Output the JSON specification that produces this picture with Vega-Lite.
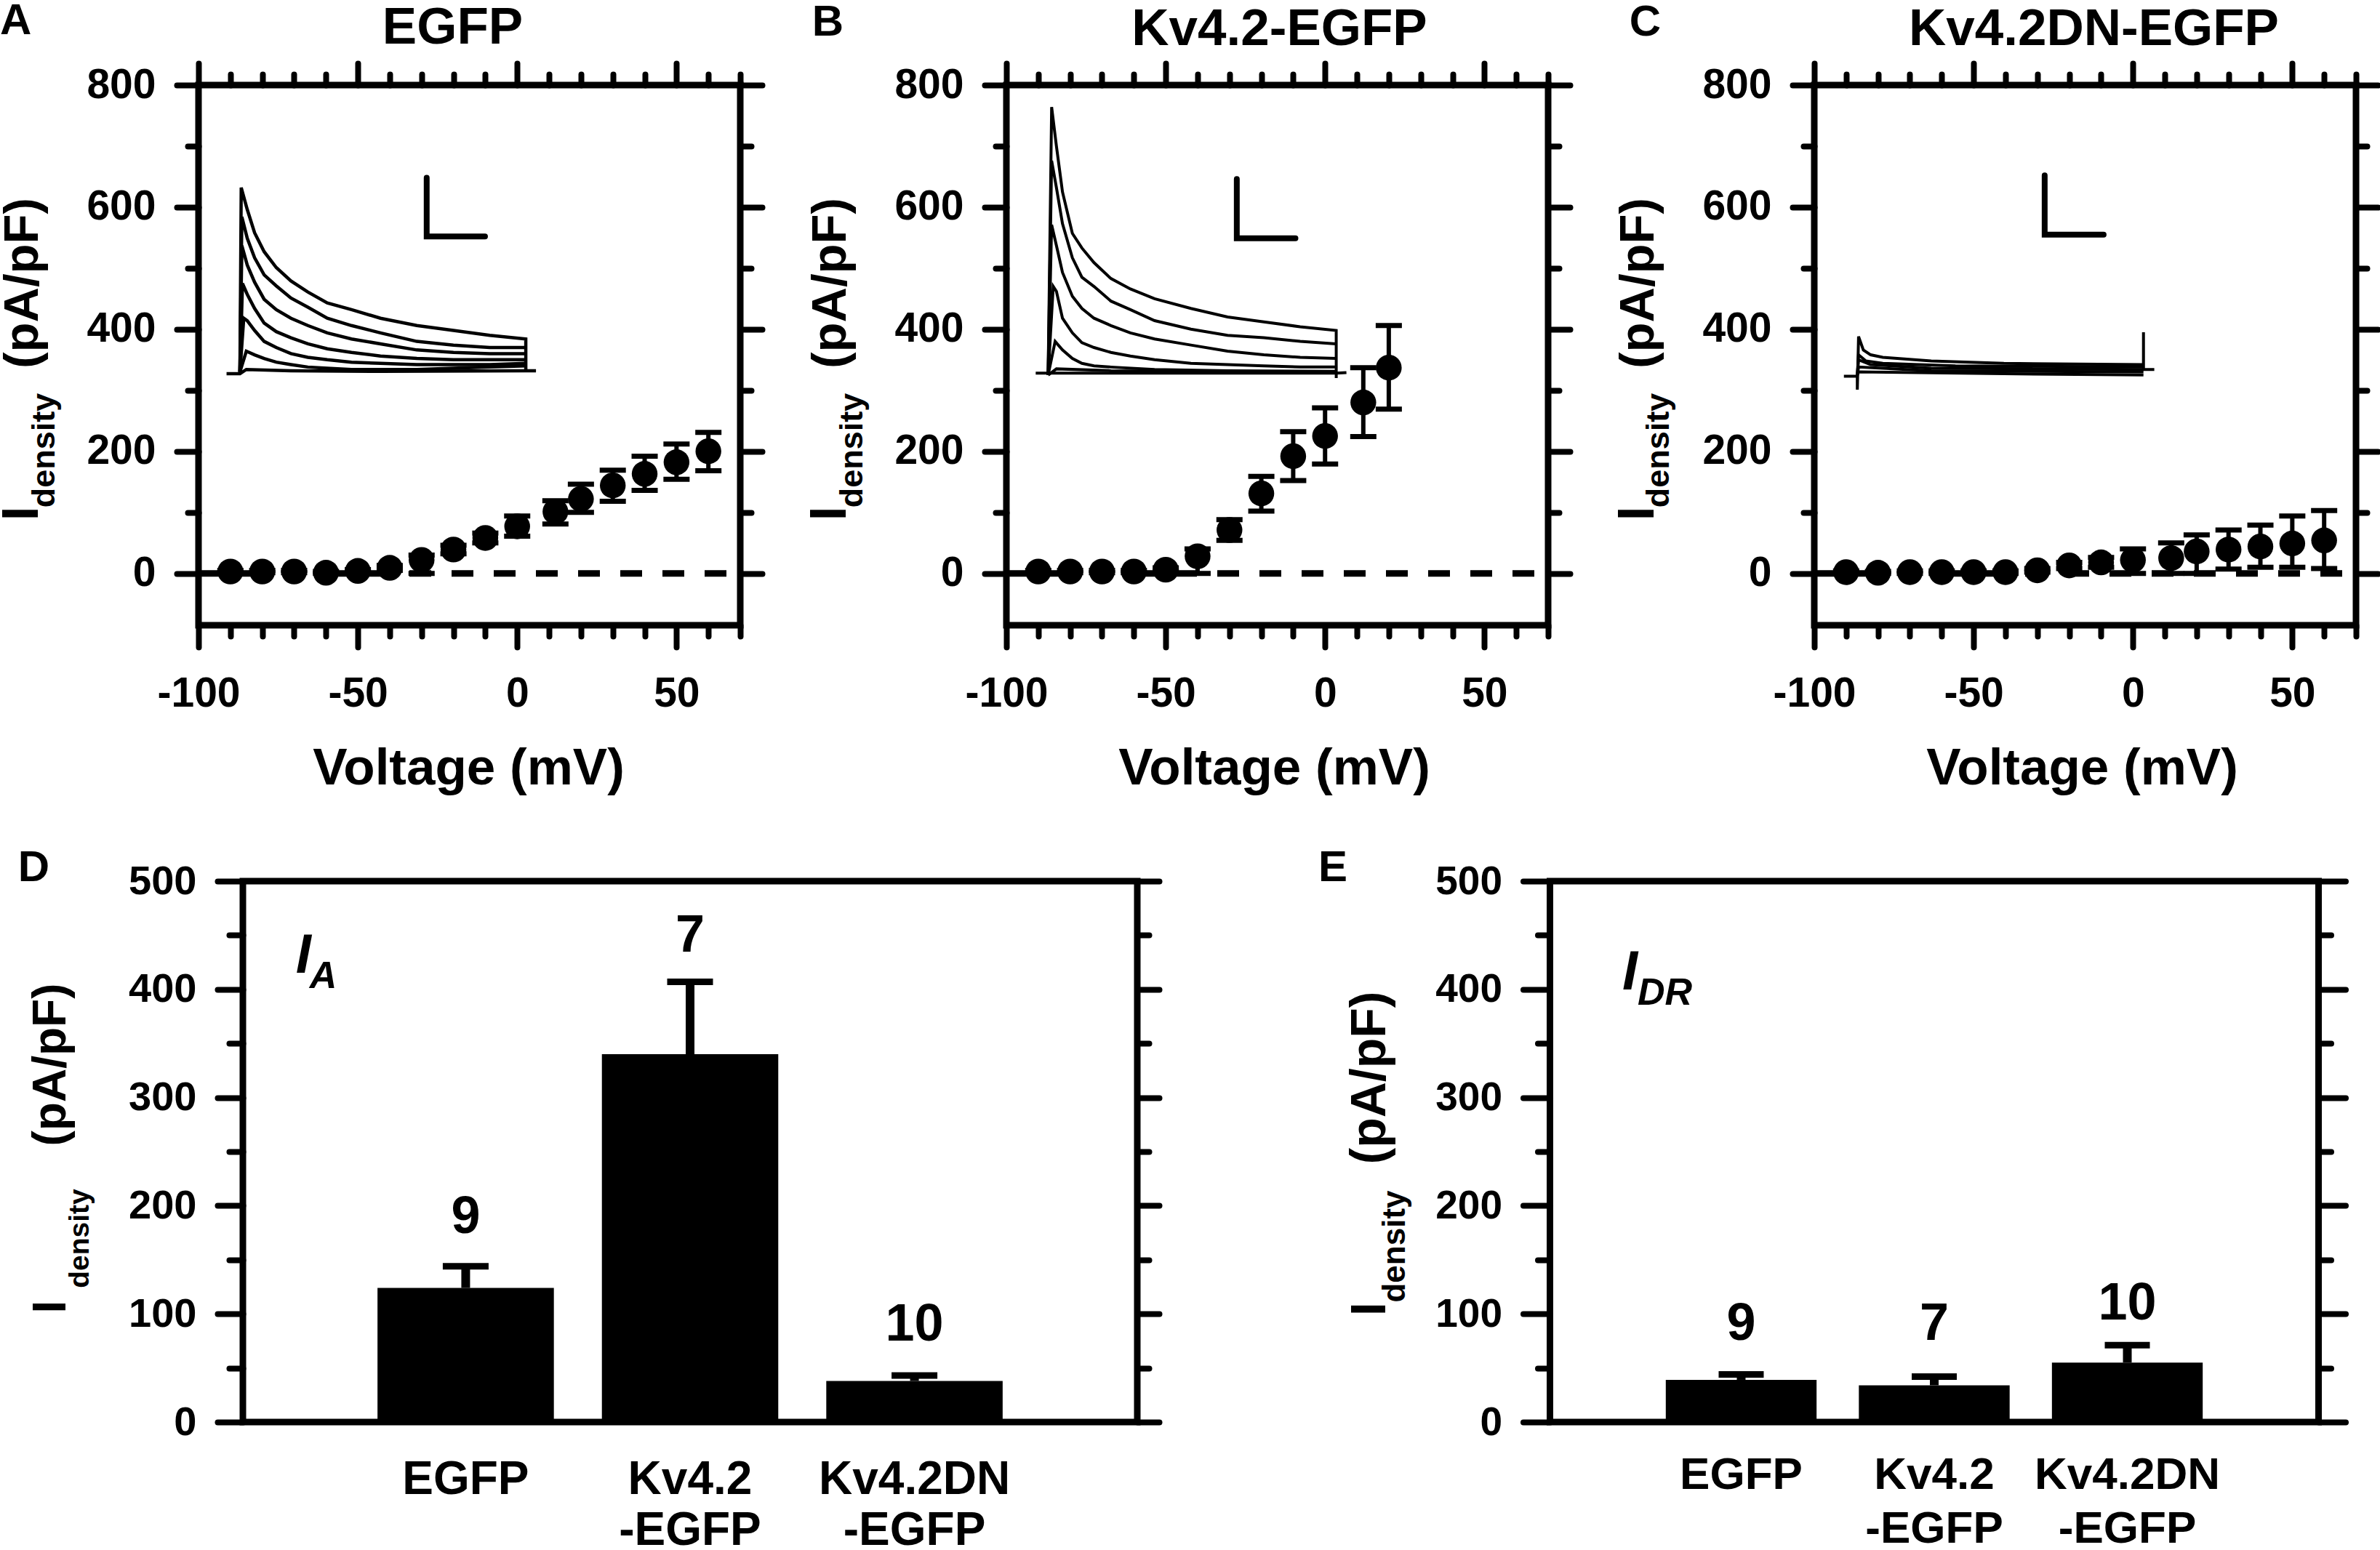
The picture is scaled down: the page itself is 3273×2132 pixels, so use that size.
{
"$schema":"https://vega.github.io/schema/vega-lite/v6.json",
"background":"white",
"padding":{"left":-11,"top":-6,"right":0,"bottom":0},
"config":{
 "font":"Liberation Sans",
 "view":{"stroke":"black","strokeWidth":9},
 "axis":{"grid":false,"domain":false,"labelFontSize":57,"labelFontWeight":"bold","labelColor":"black","labelLimit":1000,"labelOverlap":false,"labelFlush":false,"labelBound":false,"tickColor":"black","tickCap":"round","titleFontWeight":"bold","titleColor":"black","titleAlign":"center","titleBaseline":"alphabetic"},
 "text":{"fontWeight":"bold","color":"black","align":"left","baseline":"alphabetic"},
 "line":{"color":"black"},"rule":{"color":"black"},"tick":{"color":"black","opacity":1},"bar":{"color":"black"}
},
"datasets":{
 "a":[{"v":-90,"i":3,"lo":1,"hi":5},{"v":-80,"i":3,"lo":1,"hi":5},{"v":-70,"i":3,"lo":1,"hi":5},{"v":-60,"i":1,"lo":0,"hi":3},{"v":-50,"i":4,"lo":2,"hi":6},{"v":-40,"i":9,"lo":5,"hi":13},{"v":-30,"i":22,"lo":0,"hi":30},{"v":-20,"i":39,"lo":32,"hi":46},{"v":-10,"i":58,"lo":50,"hi":66},{"v":0,"i":77,"lo":61,"hi":94},{"v":12,"i":101,"lo":81,"hi":119},{"v":20,"i":122,"lo":100,"hi":146},{"v":30,"i":144,"lo":118,"hi":169},{"v":40,"i":163,"lo":136,"hi":192},{"v":50,"i":182,"lo":154,"hi":212},{"v":60,"i":200,"lo":168,"hi":231}],
 "b":[{"v":-90,"i":3,"lo":1,"hi":5},{"v":-80,"i":3,"lo":1,"hi":5},{"v":-70,"i":3,"lo":1,"hi":5},{"v":-60,"i":3,"lo":1,"hi":5},{"v":-50,"i":6,"lo":3,"hi":9},{"v":-40,"i":28,"lo":0,"hi":40},{"v":-30,"i":71,"lo":54,"hi":88},{"v":-20,"i":131,"lo":102,"hi":159},{"v":-10,"i":192,"lo":152,"hi":232},{"v":0,"i":225,"lo":179,"hi":271},{"v":12,"i":280,"lo":224,"hi":337},{"v":20,"i":337,"lo":269,"hi":406}],
 "c":[{"v":-90,"i":2,"lo":0,"hi":4},{"v":-80,"i":1,"lo":0,"hi":3},{"v":-70,"i":2,"lo":0,"hi":4},{"v":-60,"i":2,"lo":0,"hi":4},{"v":-50,"i":2,"lo":0,"hi":4},{"v":-40,"i":2,"lo":0,"hi":4},{"v":-30,"i":5,"lo":2,"hi":8},{"v":-20,"i":13,"lo":8,"hi":18},{"v":-10,"i":18,"lo":10,"hi":26},{"v":0,"i":22,"lo":0,"hi":40},{"v":12,"i":25,"lo":0,"hi":50},{"v":20,"i":36,"lo":0,"hi":63},{"v":30,"i":39,"lo":7,"hi":71},{"v":40,"i":44,"lo":10,"hi":79},{"v":50,"i":49,"lo":10,"hi":94},{"v":60,"i":54,"lo":8,"hi":103}],
 "d":[{"g":"EGFP","i":124,"hi":144,"n":"9","ny":175},{"g":"Kv4.2 -EGFP","i":340,"hi":407,"n":"7","ny":435},{"g":"Kv4.2DN -EGFP","i":38,"hi":43,"n":"10","ny":75}],
 "e":[{"g":"EGFP","i":39,"hi":44,"n":"9","ny":76},{"g":"Kv4.2 -EGFP","i":34,"hi":42,"n":"7","ny":76},{"g":"Kv4.2DN -EGFP","i":55,"hi":71,"n":"10","ny":95}],
 "zero":[{"a":-100,"b":70,"z":0}],
 "traceA":[
 {"t":1,"v":-87,"i":330},{"t":1,"v":-86.6,"i":632},{"t":1,"v":-84.7,"i":596},{"t":1,"v":-82.4,"i":558},{"t":1,"v":-79.4,"i":527},{"t":1,"v":-75.6,"i":501},{"t":1,"v":-71,"i":479},{"t":1,"v":-65.7,"i":461},{"t":1,"v":-59.6,"i":443},{"t":1,"v":-52,"i":432},{"t":1,"v":-42.9,"i":418},{"t":1,"v":-31.5,"i":406},{"t":1,"v":-20,"i":398},{"t":1,"v":-8.6,"i":390},{"t":1,"v":2.7,"i":384},{"t":1,"v":2.71,"i":332},
 {"t":2,"v":-87,"i":330},{"t":2,"v":-86.4,"i":584},{"t":2,"v":-84.7,"i":549},{"t":2,"v":-82.4,"i":517},{"t":2,"v":-79.4,"i":489},{"t":2,"v":-75.6,"i":471},{"t":2,"v":-71,"i":451},{"t":2,"v":-65.7,"i":436},{"t":2,"v":-59.6,"i":418},{"t":2,"v":-52,"i":406},{"t":2,"v":-42.9,"i":394},{"t":2,"v":-31.5,"i":380},{"t":2,"v":-20,"i":374},{"t":2,"v":-8.6,"i":370},{"t":2,"v":2.7,"i":370},
 {"t":3,"v":-87,"i":330},{"t":3,"v":-86.4,"i":537},{"t":3,"v":-84.7,"i":505},{"t":3,"v":-82.4,"i":477},{"t":3,"v":-79.4,"i":449},{"t":3,"v":-75.6,"i":432},{"t":3,"v":-71,"i":418},{"t":3,"v":-65.7,"i":406},{"t":3,"v":-59.6,"i":394},{"t":3,"v":-52,"i":384},{"t":3,"v":-42.9,"i":376},{"t":3,"v":-31.5,"i":366},{"t":3,"v":-20,"i":362},{"t":3,"v":-8.6,"i":360},{"t":3,"v":2.7,"i":360},
 {"t":4,"v":-87,"i":330},{"t":4,"v":-86.2,"i":475},{"t":4,"v":-84.7,"i":457},{"t":4,"v":-82.4,"i":434},{"t":4,"v":-79.4,"i":410},{"t":4,"v":-75.6,"i":396},{"t":4,"v":-71,"i":386},{"t":4,"v":-65.7,"i":376},{"t":4,"v":-59.6,"i":368},{"t":4,"v":-52,"i":362},{"t":4,"v":-42.9,"i":356},{"t":4,"v":-31.5,"i":352},{"t":4,"v":-20,"i":350},{"t":4,"v":-8.6,"i":350},{"t":4,"v":2.7,"i":350},
 {"t":5,"v":-87,"i":330},{"t":5,"v":-85.8,"i":418},{"t":5,"v":-84.7,"i":414},{"t":5,"v":-82.4,"i":398},{"t":5,"v":-79.4,"i":380},{"t":5,"v":-75.6,"i":370},{"t":5,"v":-71,"i":360},{"t":5,"v":-65.7,"i":354},{"t":5,"v":-59.6,"i":350},{"t":5,"v":-52,"i":346},{"t":5,"v":-42.9,"i":344},{"t":5,"v":-31.5,"i":342},{"t":5,"v":-20,"i":342},{"t":5,"v":-8.6,"i":342},{"t":5,"v":2.7,"i":344},
 {"t":6,"v":-87,"i":330},{"t":6,"v":-85,"i":364},{"t":6,"v":-82.4,"i":358},{"t":6,"v":-79.4,"i":352},{"t":6,"v":-75.6,"i":346},{"t":6,"v":-71,"i":342},{"t":6,"v":-65.7,"i":338},{"t":6,"v":-59.6,"i":336},{"t":6,"v":-52,"i":334},{"t":6,"v":-31.5,"i":334},{"t":6,"v":-20,"i":336},{"t":6,"v":-8.6,"i":338},{"t":6,"v":2.7,"i":340},
 {"t":7,"v":-91.2,"i":327},{"t":7,"v":-87,"i":327},{"t":7,"v":-85,"i":334},{"t":7,"v":-71,"i":332},{"t":7,"v":-42.9,"i":331},{"t":7,"v":2.7,"i":332},{"t":7,"v":5.9,"i":332}],
 "traceB":[
 {"t":1,"v":-86.9,"i":325},{"t":1,"v":-85.8,"i":764},{"t":1,"v":-84.3,"i":700},{"t":1,"v":-82.4,"i":625},{"t":1,"v":-79.3,"i":557},{"t":1,"v":-76.3,"i":533},{"t":1,"v":-72.5,"i":509},{"t":1,"v":-67.2,"i":483},{"t":1,"v":-61.1,"i":466},{"t":1,"v":-53.5,"i":450},{"t":1,"v":-42.1,"i":434},{"t":1,"v":-30.6,"i":420},{"t":1,"v":-19.2,"i":412},{"t":1,"v":-7.8,"i":404},{"t":1,"v":3.5,"i":398},{"t":1,"v":3.51,"i":320},
 {"t":2,"v":-86.9,"i":325},{"t":2,"v":-85.8,"i":676},{"t":2,"v":-84.3,"i":632},{"t":2,"v":-82.4,"i":573},{"t":2,"v":-79.3,"i":517},{"t":2,"v":-76.3,"i":485},{"t":2,"v":-72.5,"i":470},{"t":2,"v":-67.2,"i":446},{"t":2,"v":-61.1,"i":432},{"t":2,"v":-53.5,"i":414},{"t":2,"v":-42.1,"i":400},{"t":2,"v":-30.6,"i":390},{"t":2,"v":-19.2,"i":386},{"t":2,"v":-7.8,"i":380},{"t":2,"v":3.5,"i":376},
 {"t":3,"v":-86.9,"i":325},{"t":3,"v":-85.8,"i":571},{"t":3,"v":-84.3,"i":537},{"t":3,"v":-82.4,"i":493},{"t":3,"v":-79.3,"i":454},{"t":3,"v":-76.3,"i":434},{"t":3,"v":-72.5,"i":418},{"t":3,"v":-67.2,"i":406},{"t":3,"v":-61.1,"i":394},{"t":3,"v":-53.5,"i":384},{"t":3,"v":-42.1,"i":374},{"t":3,"v":-30.6,"i":364},{"t":3,"v":-19.2,"i":358},{"t":3,"v":-7.8,"i":354},{"t":3,"v":3.5,"i":352},
 {"t":4,"v":-86.9,"i":325},{"t":4,"v":-85.3,"i":470},{"t":4,"v":-84.3,"i":462},{"t":4,"v":-82.4,"i":418},{"t":4,"v":-79.3,"i":394},{"t":4,"v":-76.3,"i":378},{"t":4,"v":-72.5,"i":370},{"t":4,"v":-67.2,"i":362},{"t":4,"v":-61.1,"i":356},{"t":4,"v":-53.5,"i":350},{"t":4,"v":-42.1,"i":344},{"t":4,"v":-30.6,"i":342},{"t":4,"v":-19.2,"i":340},{"t":4,"v":-7.8,"i":338},{"t":4,"v":3.5,"i":338},
 {"t":5,"v":-86.9,"i":325},{"t":5,"v":-84.7,"i":380},{"t":5,"v":-82.4,"i":366},{"t":5,"v":-79.3,"i":352},{"t":5,"v":-76.3,"i":344},{"t":5,"v":-72.5,"i":340},{"t":5,"v":-67.2,"i":338},{"t":5,"v":-53.5,"i":334},{"t":5,"v":-30.6,"i":332},{"t":5,"v":3.5,"i":331},
 {"t":6,"v":-86.9,"i":325},{"t":6,"v":-84.3,"i":335},{"t":6,"v":-67.2,"i":332},{"t":6,"v":3.5,"i":330},
 {"t":7,"v":-90.8,"i":328},{"t":7,"v":-86.9,"i":328},{"t":7,"v":3.5,"i":328},{"t":7,"v":6.7,"i":329}],
 "traceC":[
 {"t":1,"v":-90.7,"i":323},{"t":1,"v":-86.5,"i":323},{"t":1,"v":-86.49,"i":301},{"t":1,"v":-86.1,"i":388},{"t":1,"v":-84.6,"i":366},{"t":1,"v":-82.3,"i":358},{"t":1,"v":-78.5,"i":354},{"t":1,"v":-63.3,"i":348},{"t":1,"v":-40.5,"i":344},{"t":1,"v":3.3,"i":342},{"t":1,"v":3.31,"i":395},{"t":1,"v":3.32,"i":334},{"t":1,"v":6.7,"i":334},
 {"t":2,"v":-86.5,"i":325},{"t":2,"v":-86.1,"i":358},{"t":2,"v":-83.8,"i":348},{"t":2,"v":-78.5,"i":344},{"t":2,"v":-55.7,"i":340},{"t":2,"v":3.3,"i":338},
 {"t":3,"v":-86.5,"i":325},{"t":3,"v":-86.1,"i":350},{"t":3,"v":-82.3,"i":342},{"t":3,"v":-63.3,"i":336},{"t":3,"v":3.3,"i":334},
 {"t":4,"v":-86.5,"i":325},{"t":4,"v":-86.1,"i":338},{"t":4,"v":-63.3,"i":332},{"t":4,"v":3.3,"i":330},
 {"t":5,"v":-86.5,"i":325},{"t":5,"v":-86.1,"i":330},{"t":5,"v":-40.5,"i":327},{"t":5,"v":3.3,"i":325}],
 "barA":[{"v":-28.4,"i":648},{"v":-28.4,"i":552},{"v":-10.1,"i":552}],
 "barB":[{"v":-27.7,"i":646},{"v":-27.7,"i":549},{"v":-9.3,"i":549}],
 "barC":[{"v":-27.7,"i":652},{"v":-27.7,"i":555},{"v":-9.2,"i":555}]
},
"vconcat":[
{"hconcat":[
 {"width":745,"height":743,"data":{"name":"a"},
  "title":{"text":"EGFP","fontSize":71,"fontWeight":"bold","color":"black","anchor":"middle","frame":"group","dx":-23,"offset":-132,"baseline":"alphabetic"},
  "resolve":{"axis":{"x":"independent","y":"independent"}},
  "layer":[
  {"data":{"name":"zero"},"mark":{"type":"rule","strokeDash":[30,28],"strokeWidth":9},
   "encoding":{"x":{"field":"a","type":"quantitative","scale":{"domain":[-100,70],"nice":false},
     "axis":{"orient":"bottom","values":[-100,-50,0,50],"labelExpr":"toString(datum.value)","tickSize":30,"tickWidth":8,"labelPadding":36,"title":"Voltage (mV)","titleX":371,"titleY":218,"titleFontSize":71}},
    "x2":{"field":"b"},
    "y":{"field":"z","type":"quantitative","scale":{"domain":[-85,800],"nice":false},
     "axis":{"orient":"left","values":[0,200,400,600,800],"tickSize":30,"tickWidth":8,"labelPadding":29,"title":"(pA/pF)","titleX":-222,"titleY":272,"titleFontSize":67,"titleAngle":-90}}}},
  {"mark":{"type":"rule","strokeWidth":6},
   "encoding":{"x":{"field":"v","type":"quantitative","axis":{"orient":"bottom","values":[-90,-80,-70,-60,-40,-30,-20,-10,10,20,30,40,60,70],"tickSize":15,"tickWidth":8,"labels":false,"title":null}},
    "y":{"field":"lo","type":"quantitative","axis":{"orient":"left","values":[100,300,500,700],"tickSize":15,"tickWidth":8,"labels":false,"title":"I","titleX":-222,"titleY":589,"titleFontSize":71,"titleAngle":-90}},
    "y2":{"field":"hi"}}},
  {"mark":{"type":"tick","orient":"horizontal","size":36,"thickness":7},
   "encoding":{"x":{"field":"v","type":"quantitative","axis":{"orient":"top","values":[-100,-50,0,50],"tickSize":30,"tickWidth":8,"labels":false,"title":null}},
    "y":{"field":"hi","type":"quantitative","axis":{"orient":"right","values":[0,200,400,600,800],"tickSize":30,"tickWidth":8,"labels":false,"title":null}}}},
  {"mark":{"type":"tick","orient":"horizontal","size":36,"thickness":7},
   "encoding":{"x":{"field":"v","type":"quantitative","axis":{"orient":"top","values":[-90,-80,-70,-60,-40,-30,-20,-10,10,20,30,40,60,70],"tickSize":15,"tickWidth":8,"labels":false,"title":null}},
    "y":{"field":"lo","type":"quantitative","axis":{"orient":"right","values":[100,300,500,700],"tickSize":15,"tickWidth":8,"labels":false,"title":null}}}},
  {"mark":{"type":"circle","color":"black","opacity":1,"size":1256},
   "encoding":{"x":{"field":"v","type":"quantitative","axis":null},
    "y":{"field":"i","type":"quantitative","axis":{"orient":"left","ticks":false,"labels":false,"title":"density","titleX":-199,"titleY":502,"titleFontSize":45,"titleAngle":-90}}}},
  {"data":{"name":"traceA"},"mark":{"type":"line","strokeWidth":4.5},
   "encoding":{"x":{"field":"v","type":"quantitative","axis":null},"y":{"field":"i","type":"quantitative","axis":null},"detail":{"field":"t"}}},
  {"data":{"name":"barA"},"mark":{"type":"line","strokeWidth":8,"strokeCap":"round"},
   "encoding":{"x":{"field":"v","type":"quantitative","axis":null},"y":{"field":"i","type":"quantitative","axis":null}}},
  {"data":{"values":[{"v":-162.3,"i":883,"s":"A"}]},"mark":{"type":"text","fontSize":60},
   "encoding":{"x":{"field":"v","type":"quantitative","axis":null},"y":{"field":"i","type":"quantitative","axis":null},"text":{"field":"s"}}}
  ]},
 {"width":745,"height":743,"data":{"name":"b"},
  "title":{"text":"Kv4.2-EGFP","fontSize":71,"fontWeight":"bold","color":"black","anchor":"middle","frame":"group","dx":3,"offset":-132,"baseline":"alphabetic"},
  "resolve":{"axis":{"x":"independent","y":"independent"}},
  "layer":[
  {"data":{"name":"zero"},"mark":{"type":"rule","strokeDash":[30,28],"strokeWidth":9},
   "encoding":{"x":{"field":"a","type":"quantitative","scale":{"domain":[-100,70],"nice":false},
     "axis":{"orient":"bottom","values":[-100,-50,0,50],"labelExpr":"toString(datum.value)","tickSize":30,"tickWidth":8,"labelPadding":36,"title":"Voltage (mV)","titleX":368,"titleY":218,"titleFontSize":71}},
    "x2":{"field":"b"},
    "y":{"field":"z","type":"quantitative","scale":{"domain":[-85,800],"nice":false},
     "axis":{"orient":"left","values":[0,200,400,600,800],"tickSize":30,"tickWidth":8,"labelPadding":29,"title":"(pA/pF)","titleX":-222,"titleY":272,"titleFontSize":67,"titleAngle":-90}}}},
  {"mark":{"type":"rule","strokeWidth":6},
   "encoding":{"x":{"field":"v","type":"quantitative","axis":{"orient":"bottom","values":[-90,-80,-70,-60,-40,-30,-20,-10,10,20,30,40,60,70],"tickSize":15,"tickWidth":8,"labels":false,"title":null}},
    "y":{"field":"lo","type":"quantitative","axis":{"orient":"left","values":[100,300,500,700],"tickSize":15,"tickWidth":8,"labels":false,"title":"I","titleX":-222,"titleY":589,"titleFontSize":71,"titleAngle":-90}},
    "y2":{"field":"hi"}}},
  {"mark":{"type":"tick","orient":"horizontal","size":36,"thickness":7},
   "encoding":{"x":{"field":"v","type":"quantitative","axis":{"orient":"top","values":[-100,-50,0,50],"tickSize":30,"tickWidth":8,"labels":false,"title":null}},
    "y":{"field":"hi","type":"quantitative","axis":{"orient":"right","values":[0,200,400,600,800],"tickSize":30,"tickWidth":8,"labels":false,"title":null}}}},
  {"mark":{"type":"tick","orient":"horizontal","size":36,"thickness":7},
   "encoding":{"x":{"field":"v","type":"quantitative","axis":{"orient":"top","values":[-90,-80,-70,-60,-40,-30,-20,-10,10,20,30,40,60,70],"tickSize":15,"tickWidth":8,"labels":false,"title":null}},
    "y":{"field":"lo","type":"quantitative","axis":{"orient":"right","values":[100,300,500,700],"tickSize":15,"tickWidth":8,"labels":false,"title":null}}}},
  {"mark":{"type":"circle","color":"black","opacity":1,"size":1256},
   "encoding":{"x":{"field":"v","type":"quantitative","axis":null},
    "y":{"field":"i","type":"quantitative","axis":{"orient":"left","ticks":false,"labels":false,"title":"density","titleX":-199,"titleY":502,"titleFontSize":45,"titleAngle":-90}}}},
  {"data":{"name":"traceB"},"mark":{"type":"line","strokeWidth":4},
   "encoding":{"x":{"field":"v","type":"quantitative","axis":null},"y":{"field":"i","type":"quantitative","axis":null},"detail":{"field":"t"}}},
  {"data":{"name":"barB"},"mark":{"type":"line","strokeWidth":8,"strokeCap":"round"},
   "encoding":{"x":{"field":"v","type":"quantitative","axis":null},"y":{"field":"i","type":"quantitative","axis":null}}},
  {"data":{"values":[{"v":-161,"i":881,"s":"B"}]},"mark":{"type":"text","fontSize":60},
   "encoding":{"x":{"field":"v","type":"quantitative","axis":null},"y":{"field":"i","type":"quantitative","axis":null},"text":{"field":"s"}}}
  ]},
 {"width":745,"height":743,"data":{"name":"c"},
  "title":{"text":"Kv4.2DN-EGFP","fontSize":71,"fontWeight":"bold","color":"black","anchor":"middle","frame":"group","dx":12,"offset":-132,"baseline":"alphabetic"},
  "resolve":{"axis":{"x":"independent","y":"independent"}},
  "layer":[
  {"data":{"name":"zero"},"mark":{"type":"rule","strokeDash":[30,28],"strokeWidth":9},
   "encoding":{"x":{"field":"a","type":"quantitative","scale":{"domain":[-100,70],"nice":false},
     "axis":{"orient":"bottom","values":[-100,-50,0,50],"labelExpr":"toString(datum.value)","tickSize":30,"tickWidth":8,"labelPadding":36,"title":"Voltage (mV)","titleX":368,"titleY":218,"titleFontSize":71}},
    "x2":{"field":"b"},
    "y":{"field":"z","type":"quantitative","scale":{"domain":[-85,800],"nice":false},
     "axis":{"orient":"left","values":[0,200,400,600,800],"tickSize":30,"tickWidth":8,"labelPadding":29,"title":"(pA/pF)","titleX":-222,"titleY":272,"titleFontSize":67,"titleAngle":-90}}}},
  {"mark":{"type":"rule","strokeWidth":6},
   "encoding":{"x":{"field":"v","type":"quantitative","axis":{"orient":"bottom","values":[-90,-80,-70,-60,-40,-30,-20,-10,10,20,30,40,60,70],"tickSize":15,"tickWidth":8,"labels":false,"title":null}},
    "y":{"field":"lo","type":"quantitative","axis":{"orient":"left","values":[100,300,500,700],"tickSize":15,"tickWidth":8,"labels":false,"title":"I","titleX":-222,"titleY":589,"titleFontSize":71,"titleAngle":-90}},
    "y2":{"field":"hi"}}},
  {"mark":{"type":"tick","orient":"horizontal","size":36,"thickness":7},
   "encoding":{"x":{"field":"v","type":"quantitative","axis":{"orient":"top","values":[-100,-50,0,50],"tickSize":30,"tickWidth":8,"labels":false,"title":null}},
    "y":{"field":"hi","type":"quantitative","axis":{"orient":"right","values":[0,200,400,600,800],"tickSize":30,"tickWidth":8,"labels":false,"title":null}}}},
  {"mark":{"type":"tick","orient":"horizontal","size":36,"thickness":7},
   "encoding":{"x":{"field":"v","type":"quantitative","axis":{"orient":"top","values":[-90,-80,-70,-60,-40,-30,-20,-10,10,20,30,40,60,70],"tickSize":15,"tickWidth":8,"labels":false,"title":null}},
    "y":{"field":"lo","type":"quantitative","axis":{"orient":"right","values":[100,300,500,700],"tickSize":15,"tickWidth":8,"labels":false,"title":null}}}},
  {"mark":{"type":"circle","color":"black","opacity":1,"size":1256},
   "encoding":{"x":{"field":"v","type":"quantitative","axis":null},
    "y":{"field":"i","type":"quantitative","axis":{"orient":"left","ticks":false,"labels":false,"title":"density","titleX":-201,"titleY":502,"titleFontSize":45,"titleAngle":-90}}}},
  {"data":{"name":"traceC"},"mark":{"type":"line","strokeWidth":4},
   "encoding":{"x":{"field":"v","type":"quantitative","axis":null},"y":{"field":"i","type":"quantitative","axis":null},"detail":{"field":"t"}}},
  {"data":{"name":"barC"},"mark":{"type":"line","strokeWidth":8,"strokeCap":"round"},
   "encoding":{"x":{"field":"v","type":"quantitative","axis":null},"y":{"field":"i","type":"quantitative","axis":null}}},
  {"data":{"values":[{"v":-158,"i":881,"s":"C"}]},"mark":{"type":"text","fontSize":60},
   "encoding":{"x":{"field":"v","type":"quantitative","axis":null},"y":{"field":"i","type":"quantitative","axis":null},"text":{"field":"s"}}}
  ]}
 ],"spacing":366,"bounds":"flush"},
{"hconcat":[
 {"width":61,"height":1,"view":{"stroke":null},"data":{"values":[]},"mark":"point"},
 {"hconcat":[
 {"width":1230,"height":744,"data":{"name":"d"},
  "resolve":{"axis":{"x":"independent","y":"independent"}},
  "layer":[
  {"mark":{"type":"bar"},
   "encoding":{"x":{"field":"g","type":"nominal","scale":{"type":"band","domain":["EGFP","Kv4.2 -EGFP","Kv4.2DN -EGFP"],"paddingInner":0.214,"paddingOuter":0.6},
     "axis":{"orient":"bottom","title":null,"ticks":false,"labelAngle":0,"labelFontSize":64,"labelPadding":47,"labelExpr":"split(datum.label,' ')","labelLineHeight":70,"labelBaseline":"top"}},
    "y":{"field":"i","type":"quantitative","scale":{"domain":[0,500],"nice":false},
     "axis":{"orient":"left","values":[0,100,200,300,400,500],"tickSize":35,"tickWidth":8,"labelFontSize":56,"labelPadding":29,"title":"(pA/pF)","titleX":-245,"titleY":252,"titleFontSize":64,"titleAngle":-90}}}},
  {"mark":{"type":"rule","strokeWidth":12},
   "encoding":{"x":{"field":"g","type":"nominal","axis":null},
    "y":{"field":"i","type":"quantitative","axis":{"orient":"left","values":[50,150,250,350,450],"tickSize":19,"tickWidth":8,"labels":false,"title":"I","titleX":-245,"titleY":585,"titleFontSize":64,"titleAngle":-90}},
    "y2":{"field":"hi"}}},
  {"mark":{"type":"tick","orient":"horizontal","size":63,"thickness":9},
   "encoding":{"x":{"field":"g","type":"nominal","axis":null},
    "y":{"field":"hi","type":"quantitative","axis":{"orient":"right","values":[0,100,200,300,400,500],"tickSize":30,"tickWidth":8,"labels":false,"title":null}}}},
  {"mark":{"type":"text","fontSize":72,"align":"center"},
   "encoding":{"x":{"field":"g","type":"nominal","axis":null},
    "y":{"field":"ny","type":"quantitative","axis":{"orient":"right","values":[50,150,250,350,450],"tickSize":16,"tickWidth":8,"labels":false,"title":null}},
    "text":{"field":"n"}}},
  {"data":{"values":[{"g":"EGFP","ny":415,"s":"I"}]},"mark":{"type":"text","fontSize":76,"fontStyle":"italic","dx":-233.6},
   "encoding":{"x":{"field":"g","type":"nominal","axis":null},
    "y":{"field":"ny","type":"quantitative","axis":{"orient":"left","ticks":false,"labels":false,"title":"density","titleX":-213,"titleY":491,"titleFontSize":39,"titleAngle":-90}},
    "text":{"field":"s"}}},
  {"data":{"values":[{"g":"EGFP","ny":401,"s":"A"}]},"mark":{"type":"text","fontSize":52,"fontStyle":"italic","dx":-214.6},
   "encoding":{"x":{"field":"g","type":"nominal","axis":null},"y":{"field":"ny","type":"quantitative","axis":null},"text":{"field":"s"}}},
  {"data":{"values":[{"g":"EGFP","ny":500,"s":"D"}]},"mark":{"type":"text","fontSize":60,"dx":-615.6},
   "encoding":{"x":{"field":"g","type":"nominal","axis":null},"y":{"field":"ny","type":"quantitative","axis":null},"text":{"field":"s"}}}
  ]},
 {"width":1057,"height":744,"data":{"name":"e"},
  "resolve":{"axis":{"x":"independent","y":"independent"}},
  "layer":[
  {"mark":{"type":"bar"},
   "encoding":{"x":{"field":"g","type":"nominal","scale":{"type":"band","domain":["EGFP","Kv4.2 -EGFP","Kv4.2DN -EGFP"],"paddingInner":0.219,"paddingOuter":0.6},
     "axis":{"orient":"bottom","title":null,"ticks":false,"labelAngle":0,"labelFontSize":62,"labelPadding":42,"labelExpr":"split(datum.label,' ')","labelLineHeight":74,"labelBaseline":"top"}},
    "y":{"field":"i","type":"quantitative","scale":{"domain":[0,500],"nice":false},
     "axis":{"orient":"left","values":[0,100,200,300,400,500],"tickSize":37,"tickWidth":8,"labelFontSize":55,"labelPadding":29,"title":"(pA/pF)","titleX":-227,"titleY":270,"titleFontSize":68,"titleAngle":-90}}}},
  {"mark":{"type":"rule","strokeWidth":12},
   "encoding":{"x":{"field":"g","type":"nominal","axis":null},
    "y":{"field":"i","type":"quantitative","axis":{"orient":"left","values":[50,150,250,350,450],"tickSize":17,"tickWidth":8,"labels":false,"title":"I","titleX":-227,"titleY":588,"titleFontSize":68,"titleAngle":-90}},
    "y2":{"field":"hi"}}},
  {"mark":{"type":"tick","orient":"horizontal","size":62,"thickness":9},
   "encoding":{"x":{"field":"g","type":"nominal","axis":null},
    "y":{"field":"hi","type":"quantitative","axis":{"orient":"right","values":[0,100,200,300,400,500],"tickSize":37,"tickWidth":8,"labels":false,"title":null}}}},
  {"mark":{"type":"text","fontSize":72,"align":"center"},
   "encoding":{"x":{"field":"g","type":"nominal","axis":null},
    "y":{"field":"ny","type":"quantitative","axis":{"orient":"right","values":[50,150,250,350,450],"tickSize":17,"tickWidth":8,"labels":false,"title":null}},
    "text":{"field":"n"}}},
  {"data":{"values":[{"g":"EGFP","ny":400,"s":"I"}]},"mark":{"type":"text","fontSize":76,"fontStyle":"italic","dx":-163.5},
   "encoding":{"x":{"field":"g","type":"nominal","axis":null},
    "y":{"field":"ny","type":"quantitative","axis":{"orient":"left","ticks":false,"labels":false,"title":"density","titleX":-200,"titleY":502,"titleFontSize":44,"titleAngle":-90}},
    "text":{"field":"s"}}},
  {"data":{"values":[{"g":"EGFP","ny":386,"s":"DR"}]},"mark":{"type":"text","fontSize":52,"fontStyle":"italic","dx":-142.5},
   "encoding":{"x":{"field":"g","type":"nominal","axis":null},"y":{"field":"ny","type":"quantitative","axis":null},"text":{"field":"s"}}},
  {"data":{"values":[{"g":"EGFP","ny":500,"s":"E"}]},"mark":{"type":"text","fontSize":60,"dx":-581.5},
   "encoding":{"x":{"field":"g","type":"nominal","axis":null},"y":{"field":"ny","type":"quantitative","axis":null},"text":{"field":"s"}}}
  ]}
 ],"spacing":567.5,"bounds":"flush"}
 ],"spacing":0,"bounds":"flush"}
],
"spacing":62
}
